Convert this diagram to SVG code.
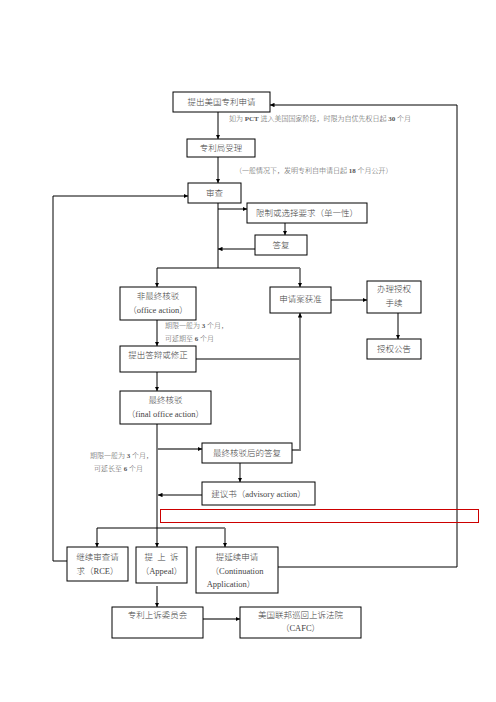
<svg xmlns="http://www.w3.org/2000/svg" width="496" height="702" viewBox="0 0 496 702">
<style>
.b{fill:#fff;stroke:#000;stroke-width:1}
.t{font-family:"Liberation Serif","Noto Sans CJK SC",serif;font-size:8.5px;font-weight:300;fill:#444;text-anchor:middle}
.a{font-family:"Liberation Serif","Noto Sans CJK SC",serif;font-size:7px;font-weight:300;fill:#555}
.c{fill:none;stroke:#000;stroke-width:1}
.g{fill:none;stroke:#777;stroke-width:1.8}
.ar{marker-end:url(#m)}
</style>
<defs>
<marker id="m" viewBox="0 0 8 8" refX="8" refY="4" markerWidth="4.5" markerHeight="4.5" markerUnits="userSpaceOnUse" orient="auto"><path d="M0,0L8,4L0,8z" fill="#000"/></marker>
</defs>
<rect x="0" y="0" width="496" height="702" fill="#fff"/>
<g id="connectors">
<path class="c ar" d="M218,112V139"/>
<path class="c ar" d="M218,157V183"/>
<path class="c ar" d="M67,561H53V196H188"/>
<path class="c" d="M218,203V268"/>
<path class="c ar" d="M218,209H247"/>
<path class="g ar" d="M285,223V235"/>
<path class="c ar" d="M255,249H218"/>
<path class="c" d="M157,268H300"/>
<path class="c ar" d="M157,268V287"/>
<path class="g ar" d="M300,268V287"/>
<path class="c ar" d="M331,300H367"/>
<path class="c ar" d="M398,313V339"/>
<path class="c ar" d="M157,320V346"/>
<path class="c" d="M196,359H300"/>
<path class="g ar" d="M292,450H300V313"/>
<path class="c ar" d="M157,372V391"/>
<path class="c" d="M157,424V528"/>
<path class="g ar" d="M157,449H202"/>
<path class="g ar" d="M240,463V482"/>
<path class="c ar" d="M202,495H158"/>
<path class="c" d="M97,528H225"/>
<path class="c ar" d="M97,528V547"/>
<path class="c ar" d="M157,528V547"/>
<path class="g ar" d="M225,528V547"/>
<path class="c ar" d="M278,567H457V105H270"/>
<path class="c ar" d="M157,586V607"/>
<path class="g ar" d="M203,619H240"/>
</g>
<g id="n1"><rect class="b" x="173" y="92" width="97" height="20"/><text class="t" x="221.5" y="105">提出美国专利申请</text></g>
<text class="a" x="229" y="121">如为 <tspan font-weight="bold">PCT</tspan> 进入美国国家阶段，时限为自优先权日起 <tspan font-weight="bold">30</tspan> 个月</text>
<g id="n2"><rect class="b" x="187" y="139" width="68" height="18"/><text class="t" x="221" y="151">专利局受理</text></g>
<text class="a" x="235" y="173">（一般情况下，发明专利自申请日起 <tspan font-weight="bold">18</tspan> 个月公开）</text>
<g id="n3"><rect class="b" x="188" y="183" width="53" height="20"/><text class="t" x="214.5" y="196">审查</text></g>
<g id="n4"><rect class="b" x="247" y="203" width="120" height="20"/><text class="t" x="307" y="216">限制或选择要求（单一性）</text></g>
<g id="n5"><rect class="b" x="255" y="235" width="52" height="20"/><text class="t" x="281" y="248">答复</text></g>
<g id="n6"><rect class="b" x="120" y="287" width="76" height="33"/><text class="t" x="158" y="299">非最终核驳</text><text class="t" x="158" y="313">（office action）</text></g>
<g id="n7"><rect class="b" x="270" y="287" width="61" height="26"/><text class="t" x="300.5" y="302">申请案获准</text></g>
<g id="n8"><rect class="b" x="367" y="281" width="54" height="32"/><text class="t" x="394" y="292">办理授权</text><text class="t" x="394" y="306">手续</text></g>
<g id="n9"><rect class="b" x="367" y="339" width="54" height="20"/><text class="t" x="394" y="352">授权公告</text></g>
<text class="a" x="165" y="328">期限一般为 <tspan font-weight="bold">3</tspan> 个月，</text>
<text class="a" x="165" y="341">可延期至 <tspan font-weight="bold">6</tspan> 个月</text>
<g id="n10"><rect class="b" x="120" y="346" width="76" height="26"/><text class="t" x="158" y="358">提出答辩或修正</text></g>
<g id="n11"><rect class="b" x="120" y="391" width="91" height="33"/><text class="t" x="165.5" y="403">最终核驳</text><text class="t" x="165.5" y="417">（final office action）</text></g>
<g id="n12"><rect class="b" x="202" y="443" width="90" height="20"/><text class="t" x="247" y="456">最终核驳后的答复</text></g>
<text class="a" x="90" y="458">期限一般为 <tspan font-weight="bold">3</tspan> 个月，</text>
<text class="a" x="94" y="471">可延长至 <tspan font-weight="bold">6</tspan> 个月</text>
<g id="n13"><rect class="b" x="202" y="482" width="113" height="23"/><text class="t" x="258.5" y="497">建议书（advisory action）</text></g>
<rect x="160.5" y="509.5" width="318" height="13" fill="none" stroke="#c00" stroke-width="1"/>
<g id="n14"><rect class="b" x="67" y="547" width="61" height="34"/><text class="t" x="97.5" y="560">继续审查请</text><text class="t" x="97.5" y="574">求（RCE）</text></g>
<g id="n15"><rect class="b" x="136" y="547" width="51" height="36"/><text class="t" x="161.5" y="560" xml:space="preserve">提  上  诉</text><text class="t" x="161.5" y="574">（Appeal）</text></g>
<g id="n16"><rect class="b" x="196" y="547" width="82" height="46"/><text class="t" x="237" y="560">提延续申请</text><text class="t" x="237" y="574">（Continuation</text><text class="t" x="231" y="587">Application）</text></g>
<g id="n17"><rect class="b" x="112" y="607" width="91" height="31"/><text class="t" x="157.5" y="618">专利上诉委员会</text></g>
<g id="n18"><rect class="b" x="240" y="607" width="121" height="31"/><text class="t" x="300.5" y="618">美国联邦巡回上诉法院</text><text class="t" x="300.5" y="631">（CAFC）</text></g>
</svg>
